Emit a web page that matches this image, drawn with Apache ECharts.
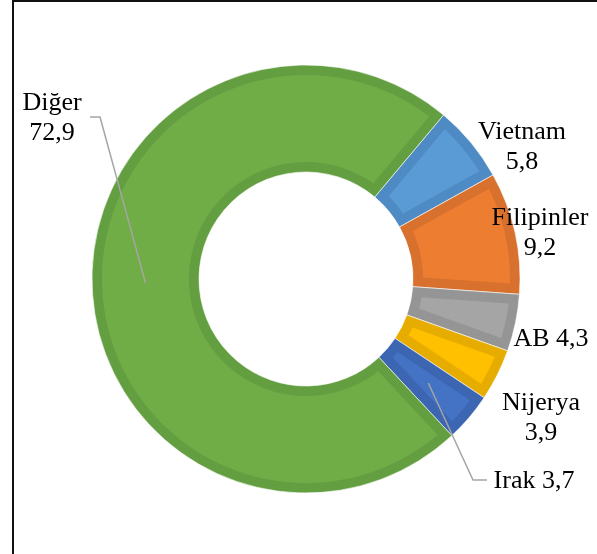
<!DOCTYPE html>
<html>
<head>
<meta charset="utf-8">
<title>Ülkelere göre pay</title>
<script src="https://cdn.jsdelivr.net/npm/echarts@6/dist/echarts.min.js"></script>
<style>
  html, body { margin: 0; padding: 0; background: #fff; }
  #main { width: 597px; height: 554px; }
</style>
</head>
<body>
<div id="main"></div>
<script type="text/javascript">
var names = ['Vietnam', 'Filipinler', 'AB', 'Nijerya', 'Irak', 'Diğer'];
var values = [5.8, 9.2, 4.3, 3.9, 3.7, 72.9];
var fillColors = ['#5B9BD5', '#ED7D31', '#A5A5A5', '#FFC000', '#4472C4', '#70AD47'];
var edgeColors = ['#4E8AC3', '#D8712E', '#959595', '#E6AD00', '#3D66B2', '#639E40'];
var oneLine = [false, false, true, false, true, false];

// layout
var CX = 306, CY = 279, R_IN = 107, R_OUT = 214, EDGE = 10;
var START = 40; // degrees clockwise from 12 o'clock
var labelPos = [[522, 147], [540, 233], [551, 339], [541, 418], [534, 481], [52, 118]];
var elbows = { 4: [[473, 480], [487, 480]], 5: [[100, 117], [90, 117]] };

var total = values.reduce(function (a, b) { return a + b; }, 0);

// start angle of slice i, radians clockwise from top
function angleAt(i) {
  var s = 0;
  for (var k = 0; k < i; k++) s += values[k];
  return (START + s / total * 360) * Math.PI / 180;
}
function pt(a, r) {
  return [CX + r * Math.sin(a), CY - r * Math.cos(a)];
}

// lighter inner part of each slice, inset by EDGE px
function renderInner(params, api) {
  var i = params.dataIndex;
  var a0 = angleAt(i), a1 = angleAt(i + 1);
  var ro = R_OUT - EDGE, ri = R_IN + EDGE;
  var oo = Math.asin(EDGE / ro), oi = Math.asin(EDGE / ri);
  var n = Math.max(8, Math.ceil((a1 - a0) * 180 / Math.PI / 2));
  var pts = [], k;
  for (k = 0; k <= n; k++) pts.push(pt(a0 + oo + (a1 - a0 - 2 * oo) * k / n, ro));
  for (k = n; k >= 0; k--) pts.push(pt(a0 + oi + (a1 - a0 - 2 * oi) * k / n, ri));
  return { type: 'polygon', shape: { points: pts }, style: { fill: fillColors[i] } };
}

var myChart = echarts.init(document.getElementById('main'));
var option = {
  animation: false,
  backgroundColor: '#fff',
  graphic: [
    { type: 'line', shape: { x1: 13, y1: 0, x2: 13, y2: 554 }, style: { stroke: '#111', lineWidth: 2 } },
    { type: 'line', shape: { x1: 12, y1: 1, x2: 597, y2: 1 }, style: { stroke: '#111', lineWidth: 2 } }
  ],
  series: [
    {
      type: 'pie',
      z: 1,
      silent: true,
      center: [CX, CY],
      radius: [R_IN, R_OUT],
      startAngle: 90 - START,
      clockwise: true,
      label: { show: false },
      labelLine: { show: false },
      itemStyle: { borderColor: 'rgba(255,255,255,0.6)', borderWidth: 1 },
      data: values.map(function (v, i) {
        return { name: names[i], value: v, itemStyle: { color: edgeColors[i] } };
      })
    },
    {
      type: 'custom',
      z: 2,
      silent: true,
      coordinateSystem: 'none',
      renderItem: renderInner,
      data: values
    },
    {
      type: 'pie',
      z: 3,
      silent: true,
      center: [CX, CY],
      radius: [R_IN, R_OUT],
      startAngle: 90 - START,
      clockwise: true,
      avoidLabelOverlap: false,
      itemStyle: { color: 'rgba(0,0,0,0)' },
      label: {
        show: true,
        position: 'outside',
        color: '#000',
        fontFamily: 'Liberation Serif',
        fontSize: 26,
        lineHeight: 30,
        formatter: function (p) {
          var v = String(values[p.dataIndex]).replace('.', ',');
          return p.name + (oneLine[p.dataIndex] ? ' ' : '\n') + v;
        }
      },
      labelLine: { show: true, lineStyle: { color: '#A5A5A5', width: 1.5 } },
      labelLayout: function (params) {
        var i = params.dataIndex;
        var out = { x: labelPos[i][0], y: labelPos[i][1], align: 'center', verticalAlign: 'middle' };
        if (elbows[i]) {
          var a = (angleAt(i) + angleAt(i + 1)) / 2;
          out.labelLinePoints = [pt(a, (R_IN + R_OUT) / 2)].concat(elbows[i]);
        }
        return out;
      },
      data: values.map(function (v, i) {
        return { name: names[i], value: v, labelLine: { show: !!elbows[i] } };
      })
    }
  ]
};
myChart.setOption(option);
</script>
</body>
</html>
